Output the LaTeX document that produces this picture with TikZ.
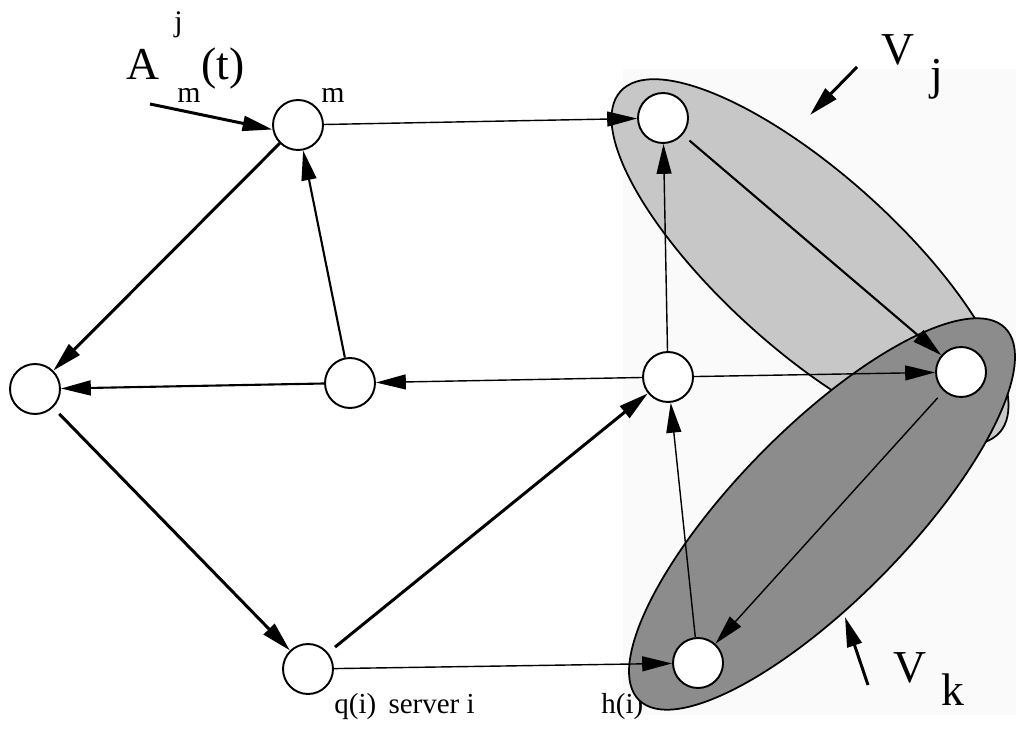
\documentclass[tikz,border=0pt]{standalone}
\usepackage{fontspec}
\setmainfont{Liberation Serif}
\newfontfamily\labserif{Liberation Serif}
\usetikzlibrary{arrows.meta}
\begin{document}
\begin{tikzpicture}[x=0.02cm,y=-0.02cm,
  vert/.style={circle,draw,line width=1.1pt,fill=white,minimum size=1cm,inner sep=0pt},
  arr/.style={-{Triangle[length=17pt,width=8.5pt]}},
  thick edge/.style={arr,line width=1.7pt},
  mid edge/.style={arr,line width=1.2pt},
  thin edge/.style={arr,line width=0.8pt},
  gap/.style={shorten <=5pt},
  group/.style={draw,line width=1pt},
  bigtxt/.style={font=\labserif\fontsize{26}{30}\selectfont,inner sep=0pt,anchor=base west},
  midtxt/.style={font=\labserif\fontsize{17}{20}\selectfont,inner sep=0pt,anchor=base west},
  smalltxt/.style={font=\labserif\fontsize{16.5}{20}\selectfont,inner sep=0pt,anchor=base west}
]
\useasboundingbox (0,0) rectangle (1016,732);
% faint scanned background panel
\fill[black!2] (623,69) rectangle (1016,715);
% label under the ellipse
\node[smalltxt] (hl) at (601,713) {h(i)};
% groups
\draw[group,fill=black!22,rotate around={-42:(810,262)}] (810,262) ellipse [x radius=255, y radius=88];
\draw[group,fill=black!45,rotate around={45.5:(822,514)}] (822,514) ellipse [x radius=261, y radius=86];
% vertices
\node[vert] (m)   at (298,125) {};
\node[vert] (L)   at (35,389)  {};
\node[vert] (C)   at (350,383) {};
\node[vert] (q)   at (308,669) {};
\node[vert] (R1)  at (663,118) {};
\node[vert] (Mid) at (668,377) {};
\node[vert] (Rk)  at (961,372) {};
\node[vert] (h)   at (698,663) {};
% texts
\node[bigtxt] (A)  at (126,80) {A};
\node[midtxt] (Aj) at (174,32) {j};
\node[midtxt] (Am) at (177,103) {m};
\node[bigtxt] (At) at (201,80) {(t)};
\node[midtxt] (ml) at (321,103) {m};
\node[bigtxt] (Vj) at (881,65) {V};
\node[bigtxt] (Vjs) at (930,90) {j};
\node[bigtxt] (Vk) at (893,682) {V};
\node[bigtxt] (Vks) at (941,705) {k};
\node[smalltxt] (qs) at (334,713) {q(i)\hspace{7pt}server i};
% free ends
\coordinate (in)  at (150,104);
\coordinate (pj1) at (857,67);
\coordinate (pj2) at (810,115);
\coordinate (pk1) at (868,685);
\coordinate (pk2) at (845,617);
% edges
\draw[thick edge] (in) -- (m.190);
\draw[thick edge] (m) -- (L);
\draw[mid edge] (C) -- (m);
\draw[mid edge] (C) -- (L);
\draw[thin edge] (Mid) -- (C);
\draw[thick edge,gap] (L) -- (q);
\draw[thick edge,gap] (q) -- (Mid);
\draw[thin edge] (q) -- (h);
\draw[thin edge] (m) -- (R1);
\draw[thin edge] (Mid) -- (R1);
\draw[mid edge,gap] (R1) -- (Rk);
\draw[thin edge] (Mid) -- (Rk);
\draw[thin edge,gap] (Rk) -- (h);
\draw[thin edge] (h) -- (Mid);
\draw[thick edge] (pj1) -- (pj2);
\draw[thick edge] (pk1) -- (pk2);
\end{tikzpicture}
\end{document}
